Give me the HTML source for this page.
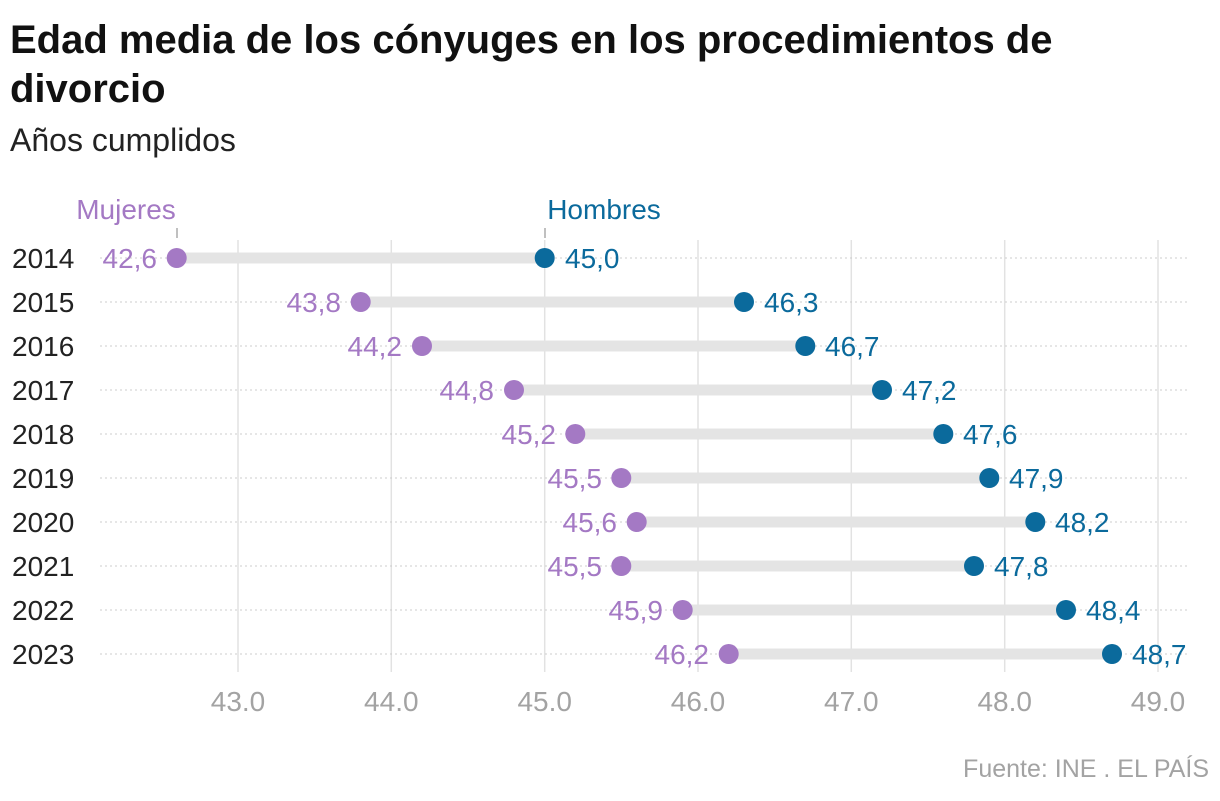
<!DOCTYPE html>
<html><head><meta charset="utf-8"><style>
body{margin:0;background:#fff;width:1220px;height:796px;overflow:hidden;font-family:"Liberation Sans",sans-serif}
</style></head><body>
<svg width="1220" height="796" xmlns="http://www.w3.org/2000/svg" font-family="Liberation Sans, sans-serif">
<text x="10" y="53" font-size="40" font-weight="bold" fill="#111">Edad media de los cónyuges en los procedimientos de</text>
<text x="10" y="102" font-size="40" font-weight="bold" fill="#111">divorcio</text>
<text x="10" y="151" font-size="32" fill="#222">Años cumplidos</text>
<g stroke="#e2e2e2" stroke-width="1.5">
<line x1="238" y1="240" x2="238" y2="672"/><line x1="391.3" y1="240" x2="391.3" y2="672"/><line x1="544.7" y1="240" x2="544.7" y2="672"/><line x1="698" y1="240" x2="698" y2="672"/><line x1="851.3" y1="240" x2="851.3" y2="672"/><line x1="1004.7" y1="240" x2="1004.7" y2="672"/><line x1="1158" y1="240" x2="1158" y2="672"/>
</g>
<g stroke="#ccc" stroke-width="1" stroke-dasharray="2,3">
<line x1="100" y1="258" x2="1188" y2="258"/><line x1="100" y1="302" x2="1188" y2="302"/><line x1="100" y1="346" x2="1188" y2="346"/><line x1="100" y1="390" x2="1188" y2="390"/><line x1="100" y1="434" x2="1188" y2="434"/><line x1="100" y1="478" x2="1188" y2="478"/><line x1="100" y1="522" x2="1188" y2="522"/><line x1="100" y1="566" x2="1188" y2="566"/><line x1="100" y1="610" x2="1188" y2="610"/><line x1="100" y1="654" x2="1188" y2="654"/>
</g>
<g stroke="#e4e4e4" stroke-width="11">
<line x1="176.7" y1="258" x2="544.7" y2="258"/><line x1="360.7" y1="302" x2="744" y2="302"/><line x1="422" y1="346" x2="805.3" y2="346"/><line x1="514" y1="390" x2="882" y2="390"/><line x1="575.3" y1="434" x2="943.3" y2="434"/><line x1="621.3" y1="478" x2="989.3" y2="478"/><line x1="636.7" y1="522" x2="1035.3" y2="522"/><line x1="621.3" y1="566" x2="974" y2="566"/><line x1="682.7" y1="610" x2="1066" y2="610"/><line x1="728.7" y1="654" x2="1112" y2="654"/>
</g>
<line x1="177" y1="228" x2="177" y2="238" stroke="#aaa" stroke-width="1.5"/>
<line x1="545" y1="228" x2="545" y2="238" stroke="#aaa" stroke-width="1.5"/>
<text x="126" y="219" font-size="28" fill="#a479c4" text-anchor="middle">Mujeres</text>
<text x="604" y="219" font-size="28" fill="#0b6a9c" text-anchor="middle">Hombres</text>
<g font-size="28" fill="#222">
<text x="12" y="268">2014</text><text x="12" y="312">2015</text><text x="12" y="356">2016</text><text x="12" y="400">2017</text><text x="12" y="444">2018</text><text x="12" y="488">2019</text><text x="12" y="532">2020</text><text x="12" y="576">2021</text><text x="12" y="620">2022</text><text x="12" y="664">2023</text>
</g>
<g fill="#a479c4">
<circle cx="176.7" cy="258" r="10"/><circle cx="360.7" cy="302" r="10"/><circle cx="422" cy="346" r="10"/><circle cx="514" cy="390" r="10"/><circle cx="575.3" cy="434" r="10"/><circle cx="621.3" cy="478" r="10"/><circle cx="636.7" cy="522" r="10"/><circle cx="621.3" cy="566" r="10"/><circle cx="682.7" cy="610" r="10"/><circle cx="728.7" cy="654" r="10"/>
</g>
<g fill="#0b6a9c">
<circle cx="544.7" cy="258" r="10"/><circle cx="744" cy="302" r="10"/><circle cx="805.3" cy="346" r="10"/><circle cx="882" cy="390" r="10"/><circle cx="943.3" cy="434" r="10"/><circle cx="989.3" cy="478" r="10"/><circle cx="1035.3" cy="522" r="10"/><circle cx="974" cy="566" r="10"/><circle cx="1066" cy="610" r="10"/><circle cx="1112" cy="654" r="10"/>
</g>
<g font-size="28" fill="#a479c4" text-anchor="end">
<text x="157" y="268">42,6</text><text x="341" y="312">43,8</text><text x="402" y="356">44,2</text><text x="494" y="400">44,8</text><text x="556" y="444">45,2</text><text x="602" y="488">45,5</text><text x="617" y="532">45,6</text><text x="602" y="576">45,5</text><text x="663" y="620">45,9</text><text x="709" y="664">46,2</text>
</g>
<g font-size="28" fill="#0b6a9c">
<text x="565" y="268">45,0</text><text x="764" y="312">46,3</text><text x="825" y="356">46,7</text><text x="902" y="400">47,2</text><text x="963" y="444">47,6</text><text x="1009" y="488">47,9</text><text x="1055" y="532">48,2</text><text x="994" y="576">47,8</text><text x="1086" y="620">48,4</text><text x="1132" y="664">48,7</text>
</g>
<g font-size="28" fill="#a3a3a3" text-anchor="middle">
<text x="238" y="711">43.0</text><text x="391.3" y="711">44.0</text><text x="544.7" y="711">45.0</text><text x="698" y="711">46.0</text><text x="851.3" y="711">47.0</text><text x="1004.7" y="711">48.0</text><text x="1158" y="711">49.0</text>
</g>
<text x="1209" y="777" font-size="25" fill="#a3a3a3" text-anchor="end">Fuente: INE . EL PAÍS</text>
</svg>
</body></html>
